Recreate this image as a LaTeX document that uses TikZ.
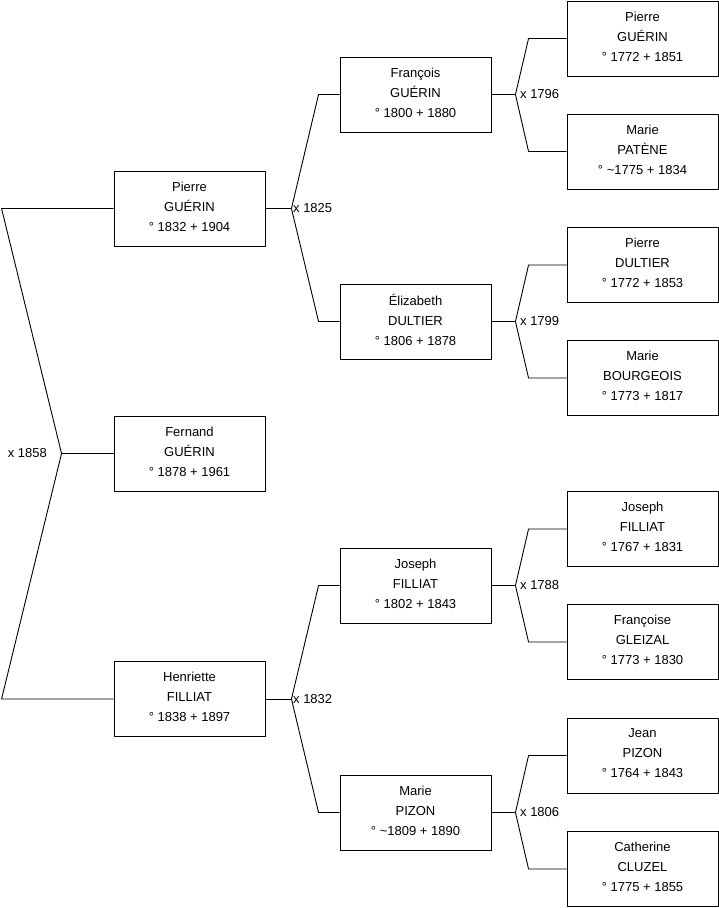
\documentclass[tikz,border=0pt]{standalone}
\usepackage{fontspec}
\setmainfont{Liberation Sans}
\begin{document}
\begin{tikzpicture}[x=1pt,y=-1pt,
  person/.style={draw, line width=0.9pt, minimum width=151pt, minimum height=75pt, align=center, inner sep=0pt, text depth=4pt, font=\fontsize{13}{20}\selectfont},
  link/.style={line width=0.9pt},
  lab/.style={font=\fontsize{13}{15}\selectfont, inner sep=1.5pt}]
\useasboundingbox (0,0) rectangle (719,908);
% generation 0/1
\node[person] (root) at (189.5,453.5) {Fernand\\GUÉRIN\\° 1878 + 1961};
\node[person] (f) at (189.5,208.5) {Pierre\\GUÉRIN\\° 1832 + 1904};
\node[person] (m) at (189.5,699) {Henriette\\FILLIAT\\° 1838 + 1897};
% generation 2
\node[person] (ff) at (415.5,94.5) {François\\GUÉRIN\\° 1800 + 1880};
\node[person] (fm) at (415.5,321.5) {Élizabeth\\DULTIER\\° 1806 + 1878};
\node[person] (mf) at (415.5,585.5) {Joseph\\FILLIAT\\° 1802 + 1843};
\node[person] (mm) at (415.5,812.5) {Marie\\PIZON\\° \textasciitilde1809 + 1890};
% generation 3
\node[person] (fff) at (642.5,38.5) {Pierre\\GUÉRIN\\° 1772 + 1851};
\node[person] (ffm) at (642.5,151.5) {Marie\\PATÈNE\\° \textasciitilde1775 + 1834};
\node[person] (fmf) at (642.5,265) {Pierre\\DULTIER\\° 1772 + 1853};
\node[person] (fmm) at (642.5,378) {Marie\\BOURGEOIS\\° 1773 + 1817};
\node[person] (mff) at (642.5,529) {Joseph\\FILLIAT\\° 1767 + 1831};
\node[person] (mfm) at (642.5,642) {Françoise\\GLEIZAL\\° 1773 + 1830};
\node[person] (mmf) at (642.5,755.5) {Jean\\PIZON\\° 1764 + 1843};
\node[person] (mmm) at (642.5,869) {Catherine\\CLUZEL\\° 1775 + 1855};

% root parents
\coordinate (v0) at ([xshift=-52pt]root.west);
\draw[link] (f.west) -- ([xshift=-112pt]f.west) -- (v0) -- ([xshift=-112pt]m.west) -- (m.west);
\draw[link] (v0) -- (root.west);
\node[lab, anchor=east] (l0) at ([xshift=-13pt]v0) {x 1858};

% generation 1 -> 2
\foreach \p/\a/\b in {f/ff/fm, m/mf/mm}{
  \coordinate (v\p) at ([xshift=26pt]\p.east);
  \draw[link] (\p.east) -- (v\p);
  \draw[link] (v\p) -- ([xshift=-21pt]\a.west) -- (\a.west);
  \draw[link] (v\p) -- ([xshift=-21pt]\b.west) -- (\b.west);
}
\node[lab, anchor=west] (lf) at (vf) {x 1825};
\node[lab, anchor=west] (lm) at (vm) {x 1832};

% generation 2 -> 3
\foreach \p in {ff, fm, mf, mm}{
  \coordinate (v\p) at ([xshift=24pt]\p.east);
  \draw[link] (\p.east) -- (v\p);
  \draw[link] (v\p) -- ([xshift=-38pt]\p f.west) -- (\p f.west);
  \draw[link] (v\p) -- ([xshift=-38pt]\p m.west) -- (\p m.west);
}
\node[lab, anchor=west] (lff) at ([xshift=3pt]vff) {x 1796};
\node[lab, anchor=west] (lfm) at ([xshift=3pt]vfm) {x 1799};
\node[lab, anchor=west] (lmf) at ([xshift=3pt]vmf) {x 1788};
\node[lab, anchor=west] (lmm) at ([xshift=3pt]vmm) {x 1806};
\end{tikzpicture}
\end{document}
